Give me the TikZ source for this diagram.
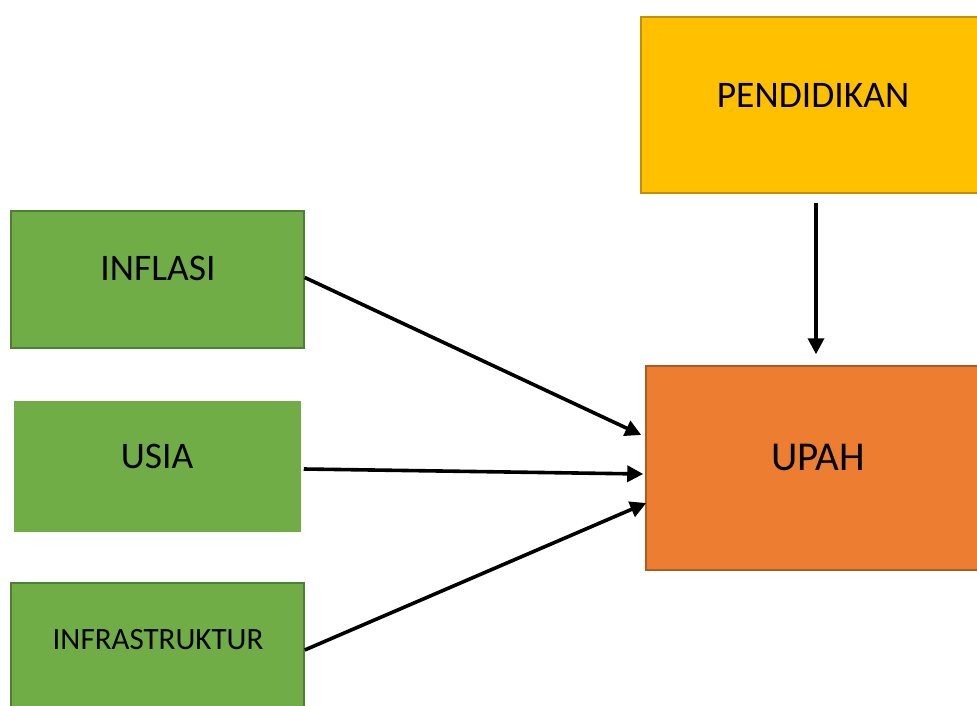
\documentclass[tikz,border=0pt]{standalone}
\usepackage{fontspec}
\setmainfont{Carlito}
\usetikzlibrary{arrows.meta}
\definecolor{grn}{HTML}{70AD47}
\definecolor{grnb}{HTML}{507E32}
\definecolor{ylw}{HTML}{FFC000}
\definecolor{ylwb}{HTML}{BF9000}
\definecolor{org}{HTML}{ED7D31}
\definecolor{orgb}{HTML}{AE5A21}
\tikzset{
  box/.style={rectangle, inner sep=0pt, line width=1.5pt},
  lbl/.style={inner sep=0pt, text depth=0pt, anchor=center},
  conn/.style={line width=3.6pt, -{Triangle[length=16pt,width=16pt]}},
}
\begin{document}
\begin{tikzpicture}[x=1pt,y=-1pt]
\useasboundingbox (0,0) rectangle (977,706);
\fill[white] (0,0) rectangle (977,706);
% boxes
\node[box, fill=ylw, draw=ylwb, minimum width=350pt, minimum height=176pt] (pend) at (816,105) {};
\node[box, fill=grn, draw=grnb, minimum width=293pt, minimum height=137pt] (infl) at (157.5,279.5) {};
\node[box, fill=grn, draw=none, minimum width=287pt, minimum height=131pt] (usia) at (157.5,466) {};
\node[box, fill=grn, draw=grnb, minimum width=293pt, minimum height=134pt] (infr) at (157.5,650) {};
\node[box, fill=org, draw=orgb, minimum width=350pt, minimum height=204pt] (upah) at (821,468) {};
% labels
\node[lbl, font=\fontsize{37.5}{40}\selectfont, text height=23.8pt] (pendt) at (813,96) {PENDIDIKAN};
\node[lbl, font=\fontsize{37.5}{40}\selectfont, text height=23.8pt] (inflt) at (158,269) {INFLASI};
\node[lbl, font=\fontsize{37.5}{40}\selectfont, text height=23.8pt] (usiat) at (157,457) {USIA};
\node[lbl, font=\fontsize{31}{34}\selectfont, text height=19.7pt] (infrt) at (158,640) {INFRASTRUKTUR};
\node[lbl, font=\fontsize{41}{44}\selectfont, text height=26pt] (upaht) at (818,457) {UPAH};
% connectors
\coordinate (e1) at ([shift={(-4pt,33pt)}]upah.west);
\coordinate (e2) at ([shift={(-2pt,-6pt)}]upah.west);
\coordinate (e3) at ([shift={(1pt,-35pt)}]upah.west);
\draw[conn] ([yshift=2pt]infl.east) -- (e1);
\draw[conn] ([shift={(2pt,-3pt)}]usia.east) -- (e2);
\draw[conn] (infr.east) -- (e3);
\coordinate (s4) at ([yshift=-9pt]pend.south);
\coordinate (e4) at ([yshift=11pt]upah.north -| s4);
\draw[conn] (s4) -- (e4);
\end{tikzpicture}
\end{document}
